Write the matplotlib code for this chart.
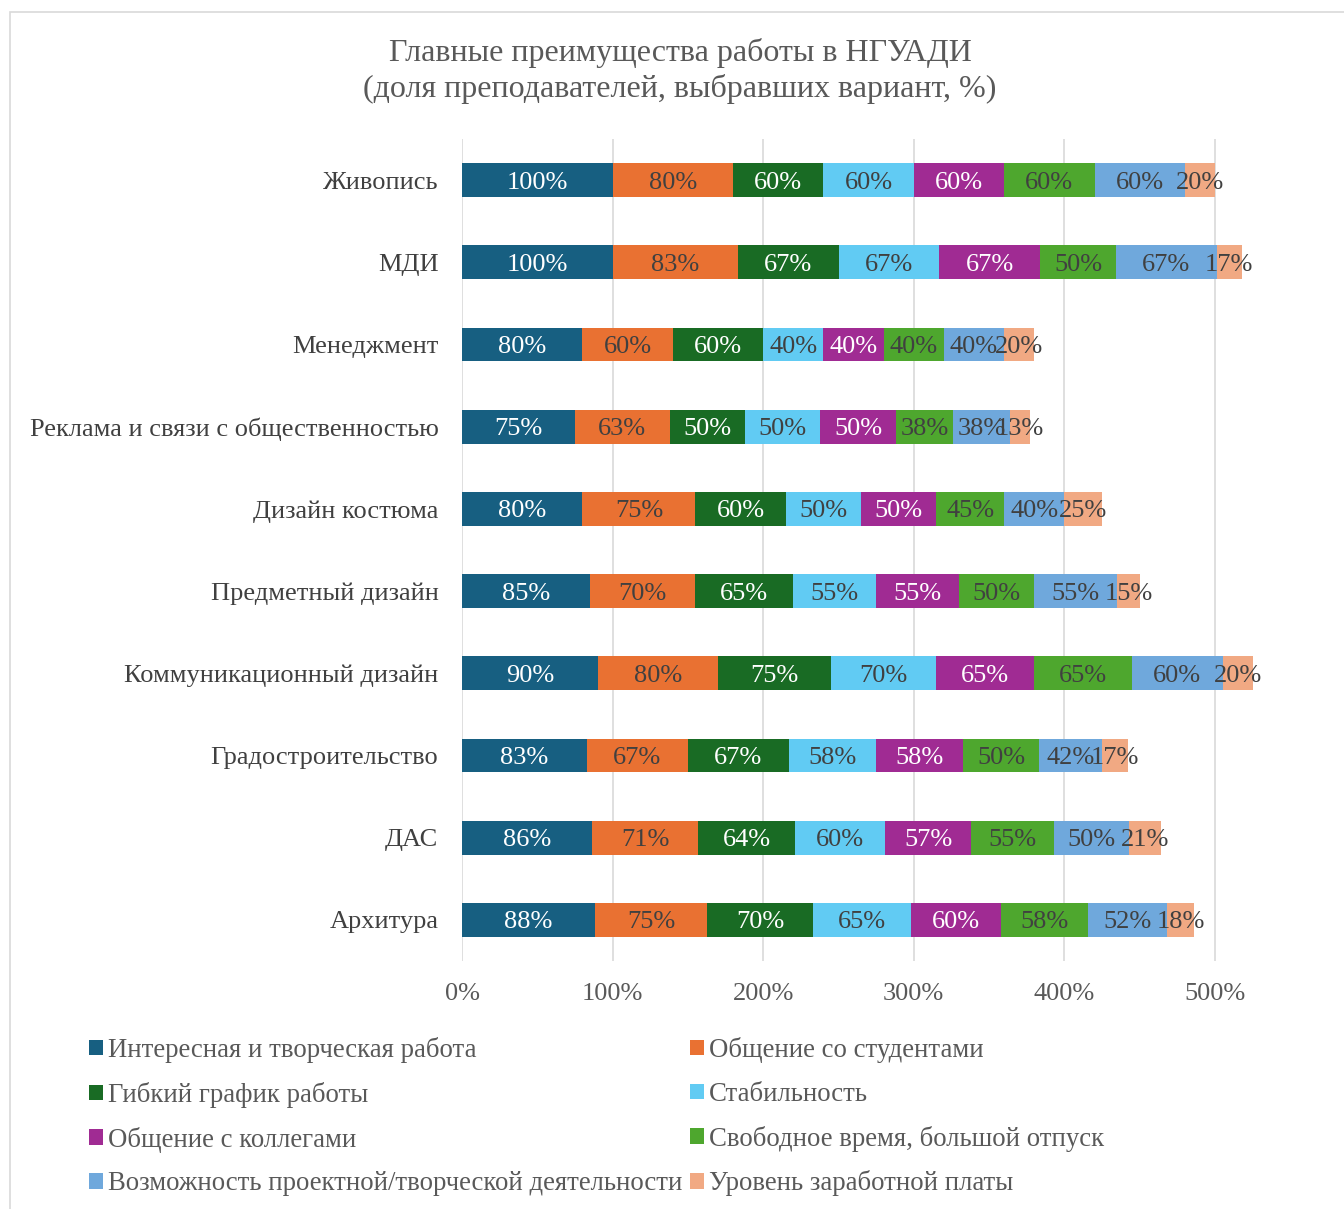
import matplotlib.pyplot as plt
from matplotlib.patches import Rectangle

plt.rcParams['font.family'] = ['Liberation Serif', 'DejaVu Serif']

categories = ['Живопись', 'МДИ', 'Менеджмент', 'Реклама и связи с общественностью',
              'Дизайн костюма', 'Предметный дизайн', 'Коммуникационный дизайн',
              'Градостроительство', 'ДАС', 'Архитура']

series_names = ['Интересная и творческая работа', 'Общение со студентами',
                'Гибкий график работы', 'Стабильность', 'Общение с коллегами',
                'Свободное время, большой отпуск',
                'Возможность проектной/творческой деятельности', 'Уровень заработной платы']

# values per category, in series order
interesting = [100, 100, 80, 75, 80, 85, 90, 83, 86, 88]
students = [80, 83, 60, 63, 75, 70, 80, 67, 71, 75]
flexible = [60, 67, 60, 50, 60, 65, 75, 67, 64, 70]
stability = [60, 67, 40, 50, 50, 55, 70, 58, 60, 65]
colleagues = [60, 67, 40, 50, 50, 55, 65, 58, 57, 60]
free_time = [60, 50, 40, 38, 45, 50, 65, 50, 55, 58]
projects = [60, 67, 40, 38, 40, 55, 60, 42, 50, 52]
salary = [20, 17, 20, 13, 25, 15, 20, 17, 21, 18]

series_values = [interesting, students, flexible, stability, colleagues, free_time, projects, salary]
colors = ['#175f81', '#e97132', '#196b24', '#61cbf3', '#a02b93', '#4ea72e', '#6fa8dc', '#f1a983']
label_colors = ['white', '#404040', 'white', '#404040', 'white', '#404040', '#404040', '#404040']

fig = plt.figure(figsize=(13.44, 12.09), dpi=100)
fig.patches.append(Rectangle((10 / 1344, -0.1), 1.2, 1 - 12 / 1209 + 0.1, transform=fig.transFigure,
                             fill=False, edgecolor='#d9d9d9', linewidth=1.2))

ax = fig.add_axes([462 / 1344, 1 - 961 / 1209, 903.6 / 1344, 822 / 1209])
ypos = list(range(len(categories)))
left = [0] * len(categories)
handles = []
for vals, name, col, lcol in zip(series_values, series_names, colors, label_colors):
    bars = ax.barh(ypos, vals, left=left, height=0.41, color=col, label=name, zorder=3)
    handles.append(bars)
    texts = ax.bar_label(bars, labels=[f'{v}%' for v in vals], label_type='center',
                         color=lcol, fontsize=19)
    for t in texts:
        t.set_va('center_baseline')
    left = [a + b for a, b in zip(left, vals)]

ax.set_xlim(0, 600)
ax.set_ylim(len(categories) - 0.5, -0.5)
ax.set_xticks([0, 100, 200, 300, 400, 500])
ax.set_xticklabels(['0%', '100%', '200%', '300%', '400%', '500%'])
ax.set_yticks(ypos)
ax.set_yticklabels(categories)
ax.grid(axis='x', color='#d9d9d9', linewidth=1.2, zorder=0)
for s in ax.spines.values():
    s.set_visible(False)
ax.tick_params(axis='x', length=0, pad=16, labelsize=19, labelcolor='#595959')
ax.tick_params(axis='y', length=0, pad=17, labelsize=19, labelcolor='#404040')

fig.text(680 / 1344, 1 - 71 / 1209, 'Главные преимущества работы в НГУАДИ\n(доля преподавателей, выбравших вариант, %)',
         ha='center', va='center', fontsize=23, color='#595959', linespacing=1.27)

order = [0, 2, 4, 6, 1, 3, 5, 7]
leg = fig.legend([handles[i] for i in order], [series_names[i] for i in order], ncol=2,
                 loc='upper left', bbox_to_anchor=(65 / 1344, 1 - 1013 / 1209), frameon=False,
                 fontsize=19.3, labelcolor='#595959', handlelength=0.5, handleheight=0.5,
                 handletextpad=0.2, columnspacing=0.3, labelspacing=0.7)

fig.savefig('out.png', dpi=100)
